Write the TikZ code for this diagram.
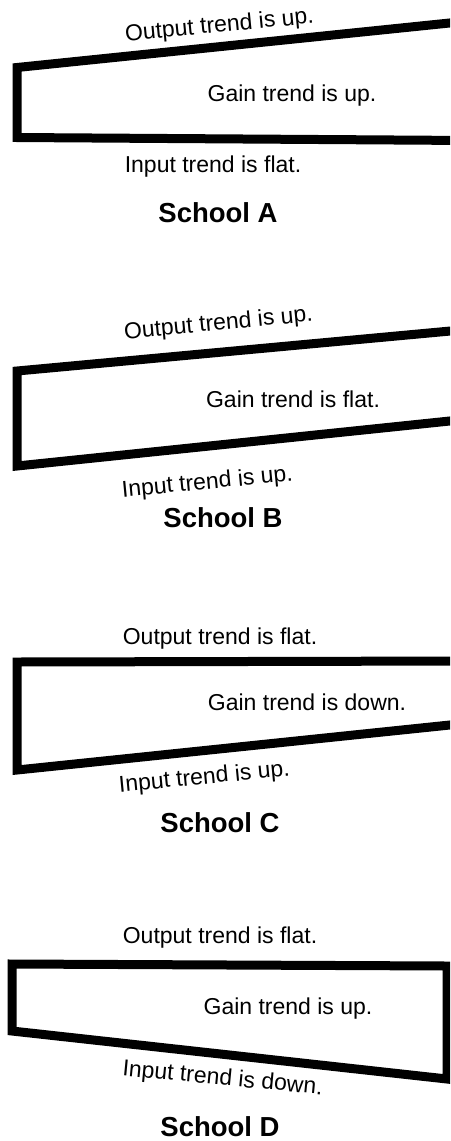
\documentclass[tikz,border=0pt]{standalone}
\usepackage{fontspec}
\setmainfont{Liberation Sans}
\begin{document}
\begin{tikzpicture}[x=1pt,y=-1pt,
  lbl/.style={font=\fontsize{23}{26}\selectfont, anchor=base, inner sep=0pt},
  ttl/.style={font=\bfseries\fontsize{27.5}{30}\selectfont, anchor=base, inner sep=0pt},
  frame/.style={line width=9pt, line join=miter, black}]
\useasboundingbox (0,0) rectangle (450,1141);
\clip (0,0) rectangle (450,1141);
% School A
\draw[frame] (470,20.9) -- (17,67.5) -- (17,137.5) -- (470,140.5);
\node[lbl, rotate=5.5] (outA) at (220,32) {Output trend is up.};
\node[lbl] (gainA) at (292,101) {Gain trend is up.};
\node[lbl] (inA) at (213,172.7) {Input trend is flat.};
\node[ttl] (schA) at (218,222.7) {School A};
% School B
\draw[frame] (470,329.2) -- (17,371) -- (17,466) -- (470,418.9);
\node[lbl, rotate=5.5] (outB) at (219,330) {Output trend is up.};
\node[lbl] (gainB) at (293,407) {Gain trend is flat.};
\node[lbl, rotate=5.5] (inB) at (208,489) {Input trend is up.};
\node[ttl] (schB) at (223,527) {School B};
% School C
\draw[frame] (470,661) -- (17,662) -- (17,770) -- (470,722.9);
\node[lbl] (outC) at (220,644) {Output trend is flat.};
\node[lbl] (gainC) at (307,710) {Gain trend is down.};
\node[lbl, rotate=5.5] (inC) at (205,784) {Input trend is up.};
\node[ttl] (schC) at (220,832) {School C};
% School D
\draw[frame] (12,964) -- (447,966) -- (447,1079) -- (12,1031) -- cycle;
\node[lbl] (outD) at (220,943) {Output trend is flat.};
\node[lbl] (gainD) at (288,1014) {Gain trend is up.};
\node[lbl, rotate=-5.5] (inD) at (222,1085) {Input trend is down.};
\node[ttl] (schD) at (220,1136) {School D};
\end{tikzpicture}
\end{document}
